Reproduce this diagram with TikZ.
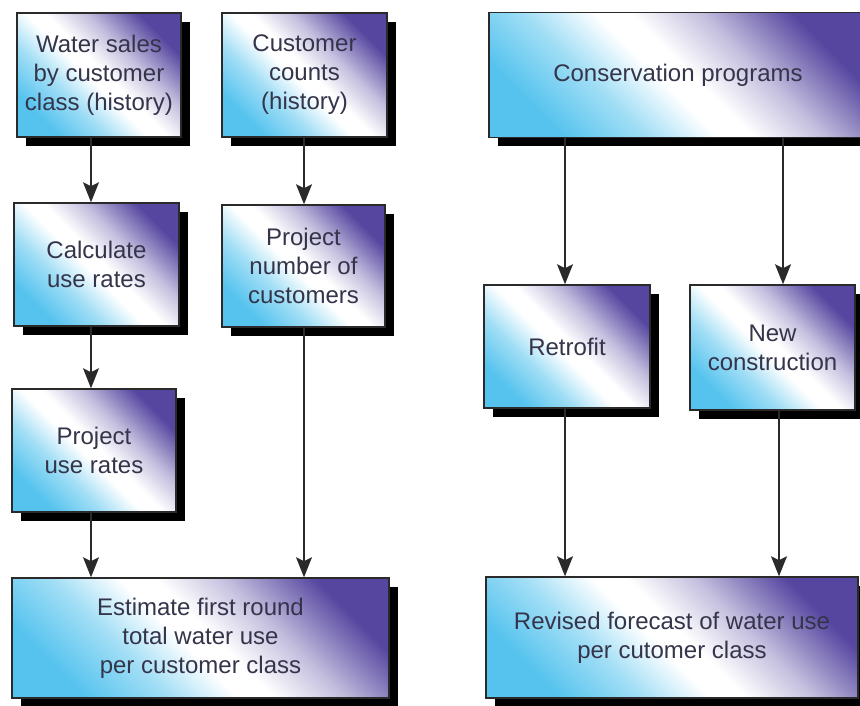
\documentclass[tikz,border=0pt]{standalone}
\usepackage{fontspec}
\setmainfont{Liberation Sans}
\usetikzlibrary{arrows.meta, positioning, shadows}
\definecolor{boxCyan}{HTML}{55C3EE}
\definecolor{boxPurple}{HTML}{5646A0}
\definecolor{boxEdge}{HTML}{2A2A2A}
\definecolor{textDark}{HTML}{34344A}
\pgfdeclareverticalshading{boxFade}{100bp}{color(0bp)=(boxCyan); color(25bp)=(boxCyan);
  color(37bp)=(boxCyan!55); color(47bp)=(white); color(52bp)=(white);
  color(62bp)=(boxPurple!35); color(75bp)=(boxPurple); color(100bp)=(boxPurple)}
\tikzset{
  arrowK/.style={-{Stealth[length=20pt, width=16pt, inset=4pt]}, color=boxEdge, line width=1.3pt},
  boxW/.style={rectangle, draw=boxEdge, line width=1.5pt, align=center,
               shading=boxFade, shading angle=-45,
               text=textDark, font=\fontsize{24}{29}\selectfont, inner sep=4pt,
               drop shadow={shadow xshift=9pt, shadow yshift=-9pt, fill=black, opacity=1}},
}
\begin{document}
\begin{tikzpicture}[x=1pt, y=-1pt]
    \useasboundingbox (0,0) rectangle (860,706);
    \node[boxW, minimum width=164pt, minimum height=124pt] (ws) at (99,75) {Water sales\\by customer\\class (history)};
    \node[boxW, minimum width=165pt, minimum height=124pt] (cc) at (304.5,75) {Customer\\counts\\(history)};
    \node[boxW, minimum width=378pt, minimum height=125pt] (cp) at (678,75) {Conservation programs};
    \node[boxW, minimum width=165pt, minimum height=123pt] (cu) at (96.5,264.5) {Calculate\\use rates};
    \node[boxW, minimum width=163pt, minimum height=122pt] (pn) at (303.5,266) {Project\\number of\\customers};
    \node[boxW, minimum width=164pt, minimum height=123pt] (pu) at (94,450.5) {Project\\use rates};
    \node[boxW, minimum width=166pt, minimum height=123pt] (rf) at (567,346.5) {Retrofit};
    \node[boxW, minimum width=165pt, minimum height=125pt] (nc) at (772.5,347.5) {New\\construction};
    \node[boxW, minimum width=377pt, minimum height=120pt] (est) at (200.5,638) {Estimate first round\\total water use\\per customer class};
    \node[boxW, minimum width=372pt, minimum height=121pt] (rev) at (672,637.5) {Revised forecast of water use\\per cutomer class};
    \draw[arrowK] (ws.south -| 91,0) -- (cu.north -| 91,0);
    \draw[arrowK] (cu.south -| 91,0) -- (pu.north -| 91,0);
    \draw[arrowK] (pu.south -| 91,0) -- (est.north -| 91,0);
    \draw[arrowK] (cc.south -| 304,0) -- (pn.north -| 304,0);
    \draw[arrowK] (pn.south -| 304,0) -- (est.north -| 304,0);
    \draw[arrowK] (cp.south -| 565,0) -- (rf.north -| 565,0);
    \draw[arrowK] (cp.south -| 783,0) -- (nc.north -| 783,0);
    \draw[arrowK] (rf.south -| 565,0) -- (rev.north -| 565,0);
    \draw[arrowK] (nc.south -| 779,0) -- (rev.north -| 779,0);
  \end{tikzpicture}
\end{document}
